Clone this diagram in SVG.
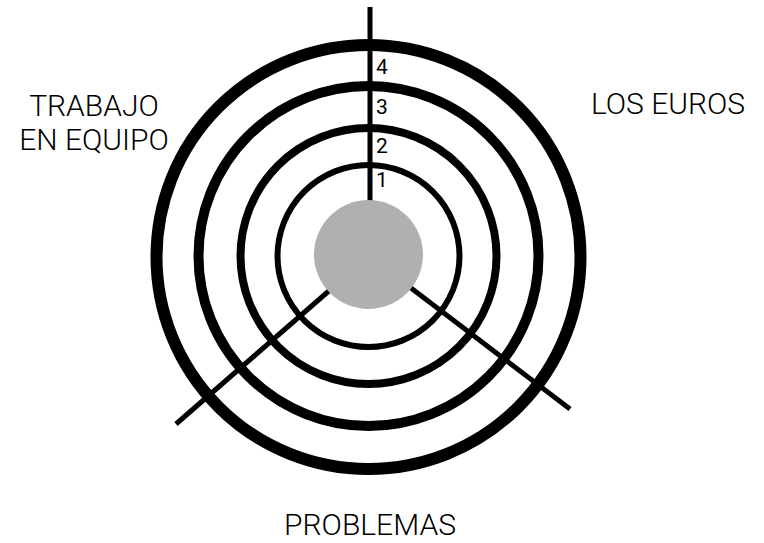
<svg xmlns="http://www.w3.org/2000/svg" width="764" height="543" viewBox="0 0 764 543">
<style>
.ring{fill:none;stroke:#000}
.axis{stroke:#000;stroke-width:5;fill:none}
.lbl{font-family:Roboto,"Liberation Sans",sans-serif;font-size:30px;font-weight:300;fill:#000}
.num{font-family:Roboto,"Liberation Sans",sans-serif;font-size:21px;font-weight:400;fill:#000}
</style>
<rect width="764" height="543" fill="#fff"/>
<g id="connectors">
<line class="axis" x1="370" y1="7" x2="370" y2="255"/>
<line class="axis" x1="369" y1="256" x2="176" y2="424"/>
<line class="axis" x1="369" y1="256" x2="570" y2="409"/>
</g>
<g id="ring1"><circle class="ring" cx="368.5" cy="256" r="91" stroke-width="6"/></g>
<g id="ring2"><circle class="ring" cx="368.5" cy="256" r="128" stroke-width="8"/></g>
<g id="ring3"><circle class="ring" cx="368.5" cy="256" r="170" stroke-width="10"/></g>
<g id="ring4"><circle class="ring" cx="368.5" cy="257" r="212" stroke-width="12"/></g>
<g id="core"><circle cx="368.5" cy="254.5" r="54.5" fill="#b0b0b0"/></g>
<g id="numbers">
<text class="num" x="376" y="187">1</text>
<text class="num" x="376" y="153">2</text>
<text class="num" x="376" y="114">3</text>
<text class="num" x="376" y="74">4</text>
</g>
<g id="label-trabajo"><text class="lbl" x="94" y="116" text-anchor="middle">TRABAJO</text><text class="lbl" x="94" y="150" text-anchor="middle">EN EQUIPO</text></g>
<g id="label-euros"><text class="lbl" x="668" y="114" text-anchor="middle">LOS EUROS</text></g>
<g id="label-problemas"><text class="lbl" x="370" y="535" text-anchor="middle">PROBLEMAS</text></g>
</svg>
